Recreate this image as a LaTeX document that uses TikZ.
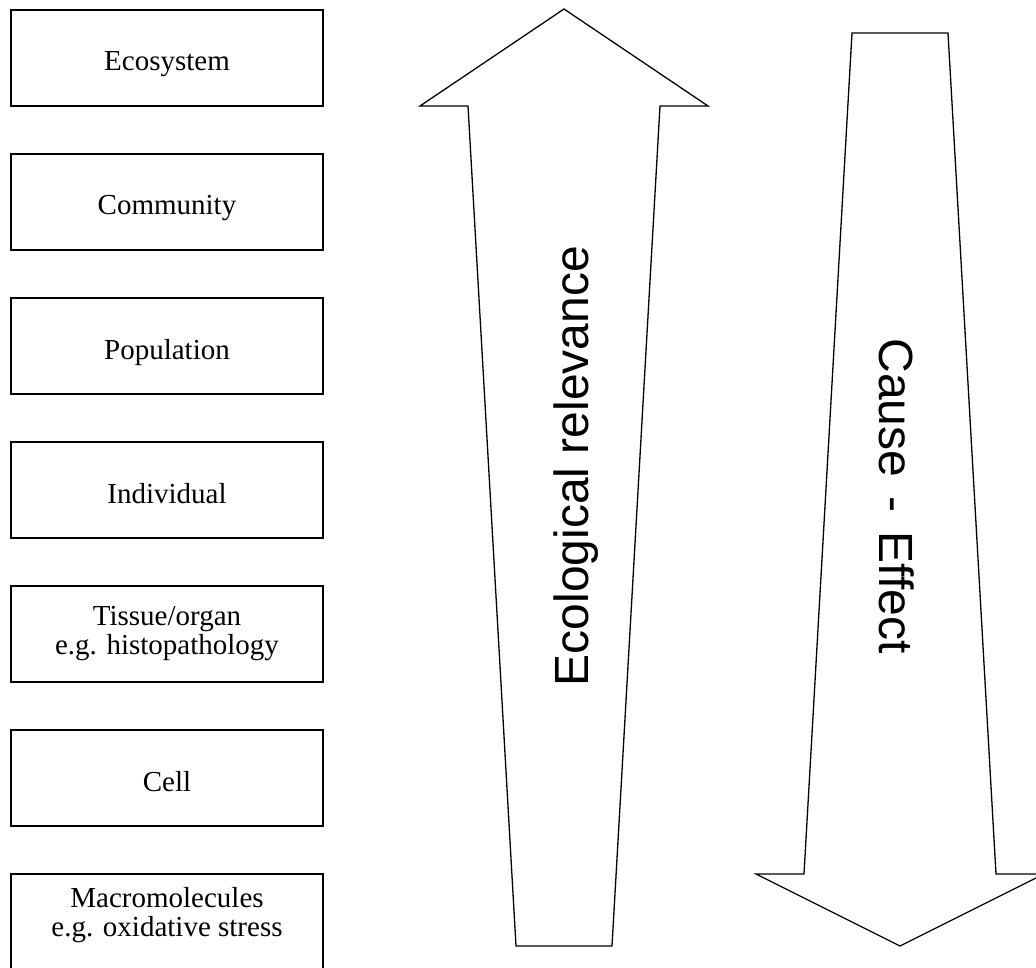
\documentclass[tikz,border=0pt]{standalone}
\usepackage{fontspec}
\setmainfont{Liberation Serif}
\setsansfont{Liberation Sans}
\usetikzlibrary{positioning}
\tikzset{
  levelbox/.style={draw, line width=1.5pt, outer sep=0pt, inner sep=0pt,
    minimum width=312pt, minimum height=96pt, align=center,
    font=\fontsize{29}{29}\selectfont},
  oneline/.style={text height=32pt, text depth=6pt},
  bigarrow/.style={draw, line width=1.3pt, line join=miter},
  arrowlabel/.style={font=\sffamily\fontsize{48}{56}\selectfont, anchor=base}
}

\begin{document}
\begin{tikzpicture}[x=1pt, y=-1pt]
    \useasboundingbox (0,0) rectangle (1036,968);
    % levels of biological organisation
    \node[levelbox, oneline] (eco) at (167,58) {Ecosystem};
    \node[levelbox, oneline, below=48pt of eco] (comm) {Community};
    \node[levelbox, oneline, below=48pt of comm] (pop) {Population};
    \node[levelbox, oneline, below=48pt of pop] (indiv) {Individual};
    \node[levelbox, below=48pt of indiv] (tissue) {Tissue/organ\\e.g. histopathology};
    \node[levelbox, oneline, below=48pt of tissue] (cell) {Cell};
    \node[levelbox, text depth=20pt, below=48pt of cell] (macro) {Macromolecules\\e.g. oxidative stress};
    % block arrows
    \draw[bigarrow] (564,9) -- (708,106) -- (660,106) -- (612,946) -- (516,946) -- (468,106) -- (420,106) -- cycle;
    \draw[bigarrow] (852,33) -- (948,33) -- (996,874) -- (1044,874) -- (900,946) -- (756,874) -- (804,874) -- cycle;
    \node[arrowlabel, rotate=90] (relevance) at (588,466) {Ecological relevance};
    \node[arrowlabel, rotate=-90] (causeeffect) at (879,496) {Cause\hspace{.4em}-\hspace{.4em}Effect};
\end{tikzpicture}
\end{document}
